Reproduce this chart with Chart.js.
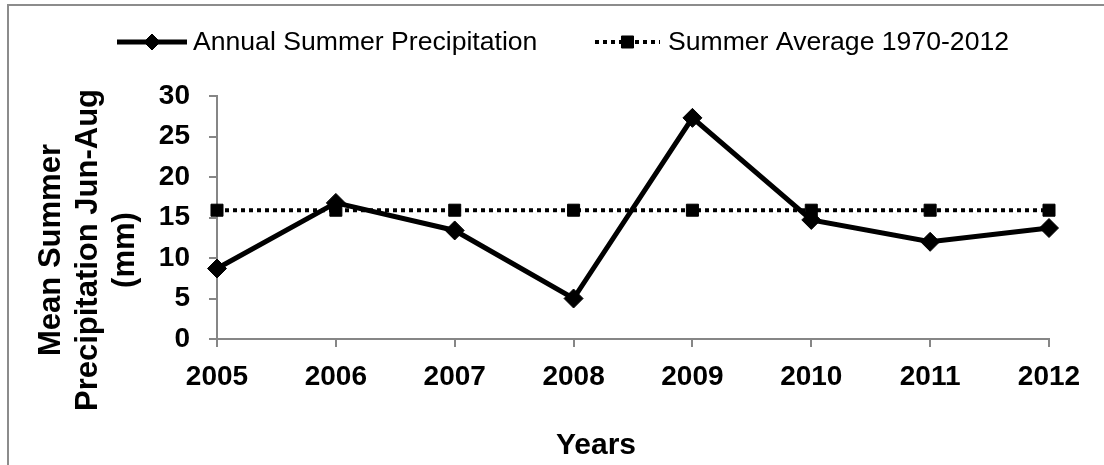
<!DOCTYPE html>
<html>
<head>
<meta charset="utf-8">
<script src="https://cdn.jsdelivr.net/npm/chart.js@4.4.1/dist/chart.umd.min.js"></script>
<style>
  html, body { margin: 0; padding: 0; background: #ffffff; }
  #wrap { width: 1104px; height: 465px; position: relative; }
</style>
</head>
<body>
<div id="wrap"><canvas id="c" width="1104" height="465"></canvas></div>
<script>
// ---- data ----
const years = ['2005', '2006', '2007', '2008', '2009', '2010', '2011', '2012'];
const annualPrecip = [8.7, 16.8, 13.4, 5.0, 27.3, 14.7, 12.0, 13.7];
const summerAverage = [15.9, 15.9, 15.9, 15.9, 15.9, 15.9, 15.9, 15.9];
const seriesNames = ['Annual Summer Precipitation', 'Summer Average 1970-2012'];
const yTickValues = [0, 5, 10, 15, 20, 25, 30];
const xTitle = 'Years';
const yTitleLines = ['Mean Summer', 'Precipitation Jun-Aug', '(mm)'];

// ---- styling ----
const FONT = '"Liberation Sans", Arial, Helvetica, sans-serif';
const AXIS_GRAY = '#868686';

const decor = {
  id: 'decor',
  beforeDraw(chart) {
    const ctx = chart.ctx;
    ctx.save();
    ctx.fillStyle = '#ffffff';
    ctx.fillRect(0, 0, chart.width, chart.height);
    ctx.strokeStyle = '#8c8c8c';
    ctx.lineWidth = 2;
    ctx.strokeRect(8, 5, chart.width + 40, chart.height + 40);
    ctx.restore();
  },
  afterDraw(chart) {
    const ctx = chart.ctx;
    ctx.save();
    ctx.fillStyle = '#000';
    // x axis title
    ctx.font = 'bold 30px ' + FONT;
    ctx.textAlign = 'center';
    ctx.textBaseline = 'middle';
    ctx.fillText(xTitle, 596, 446);
    // y axis title (rotated, 3 lines)
    ctx.save();
    ctx.translate(88, 250);
    ctx.rotate(-Math.PI / 2);
    ctx.font = 'bold 31px ' + FONT;
    const lh = 37;
    yTitleLines.forEach((t, i) => {
      ctx.fillText(t, 0, (i - 1) * lh);
    });
    ctx.restore();

    // legend (line + marker + text)
    const items = [
      { x: 117, len: 70, gap: 6 },
      { x: 595, len: 65, gap: 8 }
    ];
    const ly = 42;
    chart.data.datasets.forEach((ds, i) => {
      const it = items[i];
      ctx.save();
      ctx.strokeStyle = ds.borderColor;
      ctx.lineWidth = ds.borderWidth;
      ctx.setLineDash(ds.borderDash || []);
      ctx.beginPath();
      ctx.moveTo(it.x, ly);
      ctx.lineTo(it.x + it.len, ly);
      ctx.stroke();
      ctx.setLineDash([]);
      ctx.fillStyle = ds.pointBackgroundColor;
      ctx.strokeStyle = ds.pointBorderColor;
      ctx.lineWidth = 1;
      Chart.helpers.drawPoint(ctx, {
        pointStyle: ds.pointStyle,
        radius: ds.legendRadius,
        rotation: 0,
        borderWidth: 1
      }, it.x + it.len / 2, ly);
      ctx.restore();
      ctx.fillStyle = '#000';
      ctx.font = '26.6px ' + FONT;
      ctx.textAlign = 'left';
      ctx.textBaseline = 'middle';
      ctx.fillText(ds.label, it.x + it.len + it.gap, ly + 1);
    });
    ctx.restore();
  }
};

new Chart(document.getElementById('c'), {
  type: 'line',
  data: {
    labels: years,
    datasets: [
      {
        label: seriesNames[0],
        data: annualPrecip,
        borderColor: '#000000',
        backgroundColor: '#000000',
        borderWidth: 5,
        pointStyle: 'rectRot',
        pointRadius: 9.5,
        pointBorderWidth: 1,
        pointBackgroundColor: '#000000',
        pointBorderColor: '#000000',
        legendRadius: 8,
        tension: 0,
        fill: false,
        clip: false,
        order: 2
      },
      {
        label: seriesNames[1],
        data: summerAverage,
        borderColor: '#000000',
        backgroundColor: '#000000',
        borderWidth: 4,
        borderDash: [4, 4],
        pointStyle: 'rect',
        pointRadius: 8.5,
        pointBorderWidth: 1,
        pointBackgroundColor: '#000000',
        pointBorderColor: '#000000',
        legendRadius: 8.5,
        tension: 0,
        fill: false,
        clip: false,
        order: 1
      }
    ]
  },
  options: {
    responsive: false,
    animation: false,
    devicePixelRatio: 1,
    layout: { padding: { top: 96, right: 55, left: 0, bottom: 0 } },
    plugins: {
      legend: { display: false },
      tooltip: { enabled: false },
      title: { display: false }
    },
    scales: {
      x: {
        type: 'category',
        offset: false,
        afterFit(scale) { scale.height = 126; },
        border: { display: true, color: AXIS_GRAY, width: 2 },
        grid: { display: true, drawOnChartArea: false, drawTicks: true, tickLength: 8, color: AXIS_GRAY, lineWidth: 2 },
        ticks: {
          color: '#000',
          padding: 13,
          maxRotation: 0,
          autoSkip: false,
          font: { family: FONT, size: 28, weight: 'bold' }
        },
        title: { display: false }
      },
      y: {
        min: 0,
        max: 30,
        afterFit(scale) { scale.width = 217; },
        afterBuildTicks(scale) { scale.ticks = yTickValues.map(v => ({ value: v })); },
        border: { display: true, color: AXIS_GRAY, width: 2 },
        grid: { display: true, drawOnChartArea: false, drawTicks: true, tickLength: 8, color: AXIS_GRAY, lineWidth: 2 },
        ticks: {
          color: '#000',
          padding: 19,
          font: { family: FONT, size: 28, weight: 'bold' }
        },
        title: { display: false }
      }
    }
  },
  plugins: [decor]
});
</script>
</body>
</html>
